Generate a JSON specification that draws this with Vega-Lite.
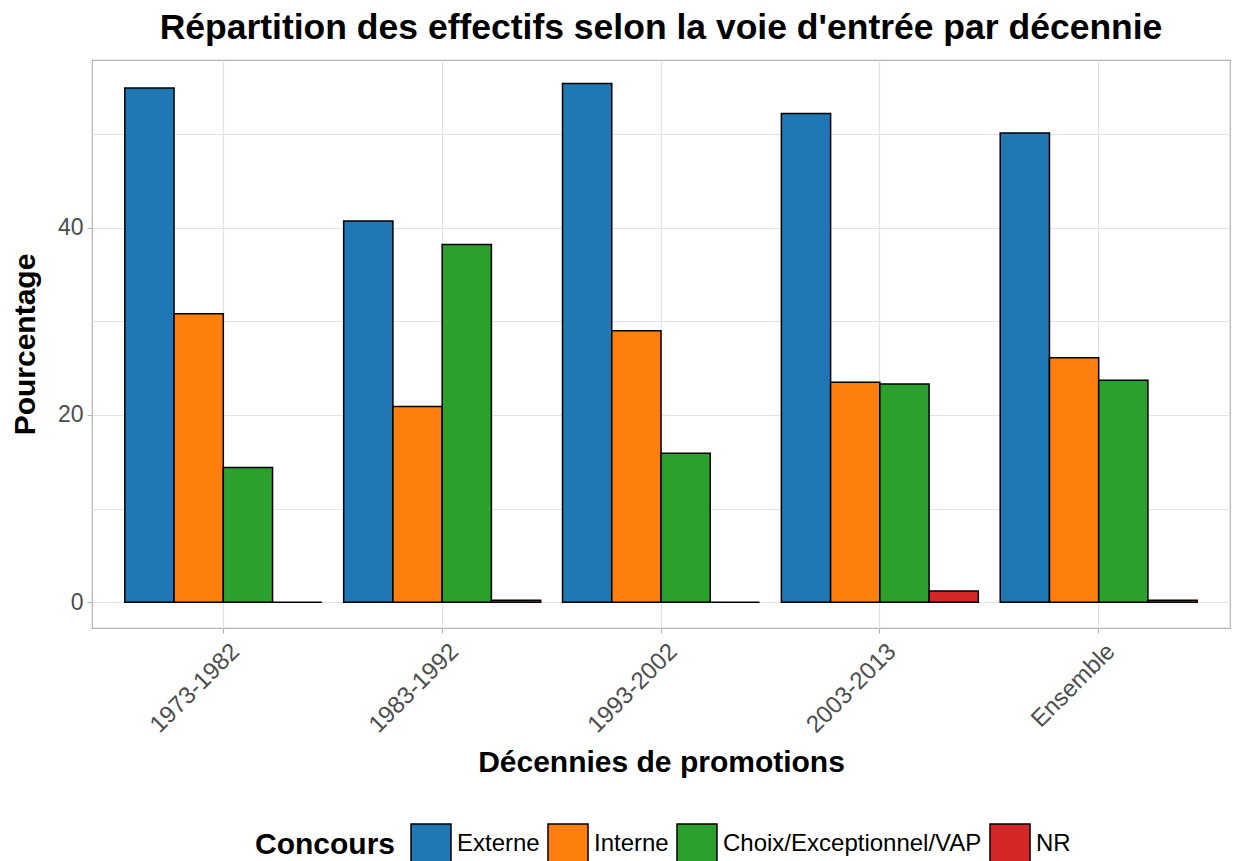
{
  "$schema": "https://vega.github.io/schema/vega-lite/v6.json",
  "width": 1138,
  "height": 568,
  "autosize": {"type": "none"},
  "padding": {"left": 92, "top": 60, "right": 6, "bottom": 233},
  "background": "white",
  "title": {
    "text": "Répartition des effectifs selon la voie d'entrée par décennie",
    "font": "Liberation Sans",
    "fontSize": 35.5,
    "fontWeight": "bold",
    "color": "black",
    "anchor": "middle",
    "offset": 14
  },
  "config": {
    "font": "Liberation Sans",
    "view": {"stroke": "#b3b3b3", "strokeWidth": 1.2}
  },
  "data": {
    "values": [
      {"decennie": "1973-1982", "concours": "Externe", "pct": 54.9},
      {"decennie": "1973-1982", "concours": "Interne", "pct": 30.8},
      {"decennie": "1973-1982", "concours": "Choix/Exceptionnel/VAP", "pct": 14.4},
      {"decennie": "1973-1982", "concours": "NR", "pct": 0},
      {"decennie": "1983-1992", "concours": "Externe", "pct": 40.7},
      {"decennie": "1983-1992", "concours": "Interne", "pct": 20.9},
      {"decennie": "1983-1992", "concours": "Choix/Exceptionnel/VAP", "pct": 38.2},
      {"decennie": "1983-1992", "concours": "NR", "pct": 0.2},
      {"decennie": "1993-2002", "concours": "Externe", "pct": 55.4},
      {"decennie": "1993-2002", "concours": "Interne", "pct": 29.0},
      {"decennie": "1993-2002", "concours": "Choix/Exceptionnel/VAP", "pct": 15.9},
      {"decennie": "1993-2002", "concours": "NR", "pct": 0},
      {"decennie": "2003-2013", "concours": "Externe", "pct": 52.2},
      {"decennie": "2003-2013", "concours": "Interne", "pct": 23.5},
      {"decennie": "2003-2013", "concours": "Choix/Exceptionnel/VAP", "pct": 23.3},
      {"decennie": "2003-2013", "concours": "NR", "pct": 1.2},
      {"decennie": "Ensemble", "concours": "Externe", "pct": 50.1},
      {"decennie": "Ensemble", "concours": "Interne", "pct": 26.1},
      {"decennie": "Ensemble", "concours": "Choix/Exceptionnel/VAP", "pct": 23.7},
      {"decennie": "Ensemble", "concours": "NR", "pct": 0.2}
    ]
  },
  "mark": {"type": "bar", "stroke": "black", "strokeWidth": 1.5},
  "encoding": {
    "x": {
      "field": "decennie",
      "type": "nominal",
      "sort": ["1973-1982", "1983-1992", "1993-2002", "2003-2013", "Ensemble"],
      "scale": {"paddingInner": 0.1, "paddingOuter": 0.15},
      "title": "Décennies de promotions",
      "axis": {
        "labelAngle": -45,
        "labelAlign": "right",
        "labelBaseline": "top",
        "labelFontSize": 24,
        "labelColor": "#4d4d4d",
        "labelPadding": 6,
        "labelOffset": 4,
        "domain": false,
        "ticks": true,
        "tickColor": "#b3b3b3",
        "tickSize": 5,
        "grid": true,
        "gridColor": "#e3e3e3",
        "gridWidth": 1.2,
        "bandPosition": 0.5,
        "titleFontSize": 30,
        "titleFontWeight": "bold",
        "titleColor": "black",
        "titlePadding": 10
      }
    },
    "xOffset": {
      "field": "concours",
      "type": "nominal",
      "sort": ["Externe", "Interne", "Choix/Exceptionnel/VAP", "NR"],
      "scale": {"paddingInner": 0, "paddingOuter": 0}
    },
    "y": {
      "field": "pct",
      "type": "quantitative",
      "scale": {"domain": [-2.75, 57.9], "nice": false, "zero": false},
      "title": "Pourcentage",
      "axis": {
        "values": [0, 10, 20, 30, 40, 50],
        "labelExpr": "datum.value % 20 == 0 ? datum.label : ''",
        "labelFontSize": 23,
        "labelColor": "#4d4d4d",
        "labelPadding": 4,
        "domain": false,
        "tickColor": "#b3b3b3",
        "tickSize": 5,
        "tickOpacity": {"condition": {"test": "datum.value % 20 == 0", "value": 1}, "value": 0},
        "grid": true,
        "gridColor": "#e3e3e3",
        "gridWidth": 1.2,
        "titleFontSize": 30,
        "titleFontWeight": "bold",
        "titleColor": "black",
        "titlePadding": 17
      }
    },
    "fill": {
      "field": "concours",
      "type": "nominal",
      "sort": ["Externe", "Interne", "Choix/Exceptionnel/VAP", "NR"],
      "scale": {
        "domain": ["Externe", "Interne", "Choix/Exceptionnel/VAP", "NR"],
        "range": ["#1f77b4", "#ff7f0e", "#2ca02c", "#d62728"]
      },
      "title": "Concours",
      "legend": {
        "orient": "none",
        "legendX": 163,
        "legendY": 763,
        "direction": "horizontal",
        "titleOrient": "left",
        "titleFontSize": 30,
        "titleFontWeight": "bold",
        "titleColor": "black",
        "titlePadding": 14,
        "titleBaseline": "middle",
        "labelFontSize": 24,
        "labelColor": "black",
        "labelOffset": 5,
        "labelLimit": 400,
        "symbolType": "square",
        "symbolSize": 1600,
        "symbolStrokeColor": "black",
        "symbolStrokeWidth": 1.5,
        "symbolOpacity": 1,
        "columnPadding": 5
      }
    }
  }
}
